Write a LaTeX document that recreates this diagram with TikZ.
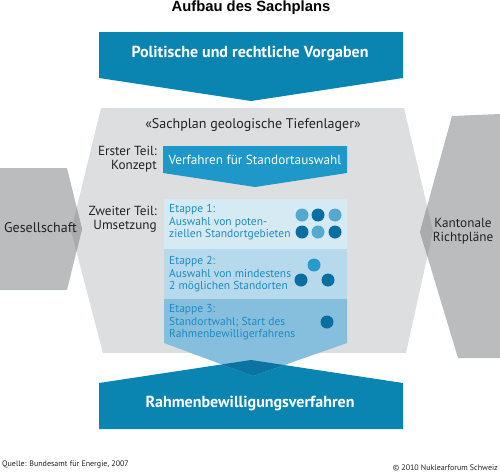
\documentclass[tikz,border=0pt]{standalone}
\usepackage{fontspec}
\setmainfont{PT Sans}
\newfontfamily\titlefont{Liberation Sans}
\definecolor{topblue}{RGB}{10,132,177}
\definecolor{boxblue}{RGB}{30,152,200}
\definecolor{etA}{RGB}{214,234,244}
\definecolor{etB}{RGB}{182,217,235}
\definecolor{etC}{RGB}{134,190,222}
\definecolor{etover}{RGB}{10,115,160}
\definecolor{etText}{RGB}{30,140,195}
\definecolor{hexgray}{RGB}{221,222,223}
\definecolor{sidegray}{RGB}{187,188,190}
\definecolor{overgray}{RGB}{170,171,173}
\definecolor{darktext}{RGB}{35,35,35}
\definecolor{dotlight}{RGB}{85,168,207}
\definecolor{dotdark}{RGB}{10,110,160}
\definecolor{dotmid}{RGB}{40,155,205}
\begin{document}
\begin{tikzpicture}[x=1pt,y=-1pt,
  bigwhite/.style={font=\fontsize{16}{18}\selectfont\bfseries, text=white, inner sep=0},
  graytxt/.style={font=\fontsize{13.2}{14}\selectfont, text=darktext, inner sep=0},
  etxt/.style={font=\fontsize{11.5}{12.5}\selectfont, text=etText, inner sep=0, align=left, anchor=west},
  dot/.style={circle, minimum size=13pt, inner sep=0},
  foot/.style={font=\fontsize{8}{9}\selectfont, text=darktext, inner sep=0}]
\useasboundingbox (0,0) rectangle (500,474);
% gray shapes
\fill[hexgray] (101,108) -- (404,108) -- (433,231) -- (406,353) -- (103,353) -- (71,231) -- cycle;
\fill[sidegray] (0,168) -- (67,168) -- (82,229) -- (67,290) -- (0,290) -- cycle;
\fill[sidegray] (452,116) -- (500,114) -- (500,358) -- (458,358) -- (420,232) -- cycle;
\begin{scope}
  \clip (101,108) -- (404,108) -- (433,231) -- (406,353) -- (103,353) -- (71,231) -- cycle;
  \fill[overgray] (0,168) -- (67,168) -- (82,229) -- (67,290) -- (0,290) -- cycle;
  \fill[overgray] (452,116) -- (500,114) -- (500,358) -- (458,358) -- (420,232) -- cycle;
\end{scope}
% top arrow
\fill[topblue] (99,32) -- (403,32) -- (403,78) -- (251,101) -- (99,78) -- cycle;
% Verfahren box
\fill[boxblue] (163,146) -- (347,146) -- (347,173) -- (255,187) -- (163,173) -- cycle;
% stages
\fill[etA] (164,199) rectangle (347,249);
\fill[etB] (164,249) rectangle (347,299);
\fill[topblue] (99,383) -- (251,360) -- (403,383) -- (403,429) -- (99,429) -- cycle;
\fill[etC] (164,299) -- (347,299) -- (347,343) -- (253,376) -- (164,343) -- cycle;
\begin{scope}
  \clip (99,383) -- (251,360) -- (403,383) -- (403,429) -- (99,429) -- cycle;
  \fill[etover] (164,299) -- (347,299) -- (347,343) -- (253,376) -- (164,343) -- cycle;
\end{scope}
% texts
\node[font=\titlefont\fontsize{14.8}{16}\selectfont\bfseries, inner sep=0] (title) at (251,8) {Aufbau des Sachplans};
\node[bigwhite] (vorgaben) at (250,54) {Politische und rechtliche Vorgaben};
\node[bigwhite] (rahmen) at (250,404) {Rahmenbewilligungsverfahren};
\node[graytxt, font=\fontsize{14}{15}\selectfont] (sachplan) at (253,125) {«Sachplan geologische Tiefenlager»};
\node[graytxt, align=right, anchor=east] (erster) at (157,159) {Erster Teil:\\Konzept};
\node[graytxt, align=right, anchor=east] (zweiter) at (157,219) {Zweiter Teil:\\Umsetzung};
\node[graytxt, text=white] (verfahren) at (255,160) {Verfahren für Standortauswahl};
\node[graytxt, font=\fontsize{14}{15}\selectfont] (ges) at (40.5,228) {Gesellschaft};
\node[graytxt, align=center, font=\fontsize{13.2}{13.5}\selectfont] (kant) at (463,231) {Kantonale\\Richtpläne};
\node[etxt] (e1) at (169,222.5) {Etappe 1:\\Auswahl von poten-\\ziellen Standortgebieten};
\node[etxt] (e2) at (169,274.5) {Etappe 2:\\Auswahl von mindestens\\2 möglichen Standorten};
\node[etxt] (e3) at (169,322.5) {Etappe 3:\\Standortwahl; Start des\\Rahmenbewilligerfahrens};
% dots
\node[dot, fill=dotlight] (d11) at (302,215) {};
\node[dot, fill=dotdark] (d12) at (318,215) {};
\node[dot, fill=dotlight] (d13) at (335,215) {};
\node[dot, fill=dotdark] (d21) at (302,232) {};
\node[dot, fill=dotlight] (d22) at (318,232) {};
\node[dot, fill=dotdark] (d23) at (335,232) {};
\node[dot, fill=dotmid] (d31) at (314,265) {};
\node[dot, fill=dotdark] (d32) at (301,280) {};
\node[dot, fill=dotdark] (d33) at (328,280) {};
\node[dot, fill=dotdark] (d41) at (327,322) {};
% footer
\node[foot, anchor=west] (quelle) at (2,464) {Quelle: Bundesamt für Energie, 2007};
\node[foot, anchor=east] (copy) at (498,468) {© 2010 Nuklearforum Schweiz};
\end{tikzpicture}
\end{document}
